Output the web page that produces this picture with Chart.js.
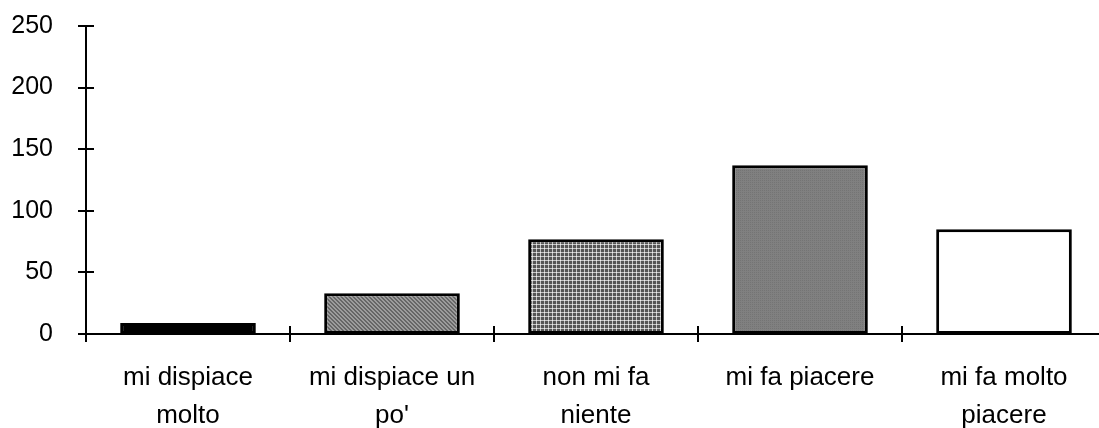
<!DOCTYPE html>
<html>
<head>
<meta charset="utf-8">
<script src="https://cdn.jsdelivr.net/npm/chart.js@4/dist/chart.umd.min.js"></script>
<style>
	html, body { margin: 0; padding: 0; background: #fff; overflow: hidden; }
	#wrap { position: relative; width: 1110px; height: 428px; }
</style>
</head>
<body>
<div id="wrap"><canvas id="myChart"></canvas></div>
<script>
(() => {
	"use strict";

	// data
	const categories = [
		["mi dispiace", "molto"],
		["mi dispiace un", "po'"],
		["non mi fa", "niente"],
		["mi fa piacere"],
		["mi fa molto", "piacere"],
	];
	const values = [9, 33, 77, 137, 85];
	const yTicks = [0, 50, 100, 150, 200, 250];

	// little fill patterns like the old spreadsheet ones
	function pattern(size, draw) {
		const c = document.createElement("canvas");
		c.width = size;
		c.height = size;
		const g = c.getContext("2d");
		draw(g);
		return g.createPattern(c, "repeat");
	}
	const ctx = document.getElementById("myChart");

	const diag = pattern(4, (g) => {
		g.fillStyle = "#9c9c9c";
		g.fillRect(0, 0, 4, 4);
		g.fillStyle = "#666";
		for (let i = 0; i < 4; i++) {
			g.fillRect(i, i, 1, 1);
			g.fillRect((i + 1) % 4, i, 1, 1);
		}
	});
	const grid = pattern(4, (g) => {
		g.fillStyle = "#555";
		g.fillRect(0, 0, 4, 4);
		g.fillStyle = "#c4c4c4";
		g.fillRect(0, 0, 4, 1);
		g.fillRect(0, 0, 1, 4);
		g.fillStyle = "#eee";
		g.fillRect(0, 0, 1, 1);
	});
	const dots = pattern(2, (g) => {
		g.fillStyle = "#808080";
		g.fillRect(0, 0, 2, 2);
		g.fillStyle = "#747474";
		g.fillRect(0, 0, 1, 1);
	});
	const fills = ["#000000", diag, grid, dots, "#ffffff"];

	// ticks that cross the axis lines
	const crossTicks = {
		id: "crossTicks",
		afterDraw(chart) {
			const c = chart.ctx;
			const x = chart.scales.x;
			const y = chart.scales.y;
			c.save();
			c.strokeStyle = "#000";
			c.lineWidth = 2;
			c.beginPath();
			y.ticks.forEach((t) => {
				const py = Math.round(y.getPixelForValue(t.value));
				c.moveTo(x.left - 8, py);
				c.lineTo(x.left + 8, py);
			});
			for (let i = 0; i <= categories.length; i++) {
				const px = Math.round(x.getPixelForValue(i - 0.5));
				c.moveTo(px, y.bottom - 8);
				c.lineTo(px, y.bottom + 8);
			}
			c.stroke();
			c.restore();
		},
	};

	// eslint-disable-next-line no-unused-vars
	const myChart = new Chart(ctx, {
		type: "bar",
		data: {
			labels: categories,
			datasets: [
				{
					data: values,
					backgroundColor: fills,
					borderColor: "#000",
					borderWidth: 3,
					borderSkipped: false,
					categoryPercentage: 1,
					barPercentage: 0.665,
				},
			],
		},
		options: {
			responsive: true,
			maintainAspectRatio: false,
			animation: false,
			layout: {
				padding: { top: 26, right: 4, left: 0, bottom: 0 },
			},
			plugins: {
				legend: { display: false },
				tooltip: { enabled: false },
			},
			scales: {
				x: {
					grid: { display: false, drawTicks: false },
					border: { color: "#000", width: 2 },
					ticks: {
						color: "#000",
						padding: 25,
						maxRotation: 0,
						autoSkip: false,
						font: { family: "Liberation Sans", size: 26, lineHeight: 1.46 },
					},
					afterFit(s) {
						s.height = 94;
						s.paddingLeft = 0;
						s.paddingRight = 0;
					},
				},
				y: {
					min: 0,
					max: 250,
					grid: { display: false, drawTicks: false },
					border: { color: "#000", width: 2 },
					afterBuildTicks(s) {
						s.ticks = yTicks.map((v) => ({ value: v }));
					},
					ticks: {
						color: "#000",
						padding: 33,
						font: { family: "Liberation Sans", size: 25 },
					},
					afterFit(s) {
						s.width = 86;
						s.paddingTop = 0;
						s.paddingBottom = 0;
					},
				},
			},
		},
		plugins: [crossTicks],
	});
})();
</script>
</body>
</html>
